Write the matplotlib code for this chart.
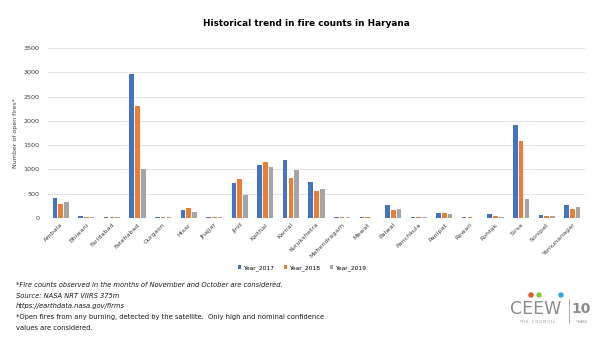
import numpy as np
import matplotlib
matplotlib.use("Agg")
import matplotlib.pyplot as plt
from matplotlib.patches import Ellipse

districts = ["Ambala", "Bhiwani", "Faridabad", "Fatehabad", "Gurgaon", "Hisar", "Jhajjar",
             "Jind", "Kaithal", "Karnal", "Kurukshetra", "Mahendragarh", "Mewat", "Palwal",
             "Panchkula", "Panipat", "Rewari", "Rohtak", "Sirsa", "Sonipat", "Yamunanagar"]
year_2017 = [410, 35, 20, 2970, 18, 165, 18, 717, 1092, 1195, 744, 15, 15, 273, 15, 102, 15, 82, 1905, 68, 273]
year_2018 = [293, 30, 20, 2310, 18, 205, 28, 812, 1153, 826, 553, 15, 15, 164, 15, 102, 15, 47, 1584, 40, 184]
year_2019 = [328, 30, 25, 1000, 12, 123, 15, 477, 1057, 990, 600, 12, 0, 177, 20, 74, 10, 20, 389, 40, 232]
series_names = ["Year_2017", "Year_2018", "Year_2019"]
colors = ["#4472C4", "#ED7D31", "#A5A5A5"]

W, H = 602, 339
fig = plt.figure(figsize=(W / 100, H / 100), dpi=100)
ax = fig.add_axes([48 / W, 1 - 218 / H, 537 / W, 170 / H])

x = np.arange(len(districts))
pitch = 0.227
for i, (vals, name) in enumerate(zip([year_2017, year_2018, year_2019], series_names)):
    ax.bar(x + (i - 1) * pitch, vals, width=0.18, color=colors[i], label=name, zorder=3)

ax.set_ylim(0, 3500)
ax.set_yticks(range(0, 3501, 500))
ax.set_xlim(-0.5, len(districts) - 0.5)
ax.set_xticks(x)
ax.set_xticklabels(districts, rotation=45, ha="right", rotation_mode="anchor", fontsize=4.6, color="#404040")
ax.tick_params(axis="y", labelsize=4.6, labelcolor="#404040", length=0, pad=6)
ax.tick_params(axis="x", length=0, pad=3)
ax.grid(axis="y", color="#E0E0E0", linewidth=0.6, zorder=0)
for s in ax.spines.values():
    s.set_visible(False)
ax.axhline(0, color="#D9D9D9", linewidth=0.6, zorder=1)
ax.set_ylabel("Number of open fires*", fontsize=4.5, color="#404040", labelpad=4)

fig.text(306 / W, 1 - 24 / H, "Historical trend in fire counts in Haryana", ha="center", va="center",
         fontsize=6.4, fontweight="bold")

fig.legend(loc="center", bbox_to_anchor=(302 / W, 1 - 268 / H), ncol=3, fontsize=4.3, frameon=False,
           handlelength=0.6, handleheight=0.6, columnspacing=1.6, handletextpad=0.3)

notes = [
    ("*Fire counts observed in the months of November and October are considered.", "italic", 285),
    ("Source: NASA NRT VIIRS 375m", "italic", 295.5),
    ("https://earthdata.nasa.gov/firms", "italic", 306),
    ("*Open fires from any burning, detected by the satellite.  Only high and nominal confidence", "normal", 317),
    ("values are considered.", "normal", 328),
]
for t, st, yy in notes:
    fig.text(16 / W, 1 - yy / H, t, fontsize=5.4, style=st, fontstretch="condensed",
             va="center", ha="left", color="#1a1a1a")

# logo approximation
grey = "#8C8C8C"
fig.text(536 / W, 1 - 309 / H, "CEEW", fontsize=12.5, color=grey, ha="center", va="center")
fig.text(537 / W, 1 - 322 / H, "T H E   C O U N C I L", fontsize=2.6, color=grey, ha="center", va="center")
for dx, c in zip([531, 539, 561], ["#E8532B", "#8DC63F", "#29A9E1"]):
    fig.add_artist(Ellipse((dx / W, 1 - 295 / H), 4 / W, 4 / H, color=c, transform=fig.transFigure))
fig.add_artist(plt.Line2D([569 / W, 569 / W], [1 - 323 / H, 1 - 299 / H], color=grey, linewidth=0.5))
fig.text(581 / W, 1 - 309 / H, "10", fontsize=10, color=grey, ha="center", va="center", fontweight="bold")
fig.text(581 / W, 1 - 322 / H, "YEARS", fontsize=2.4, color=grey, ha="center", va="center")

fig.savefig("out.png", dpi=100)
